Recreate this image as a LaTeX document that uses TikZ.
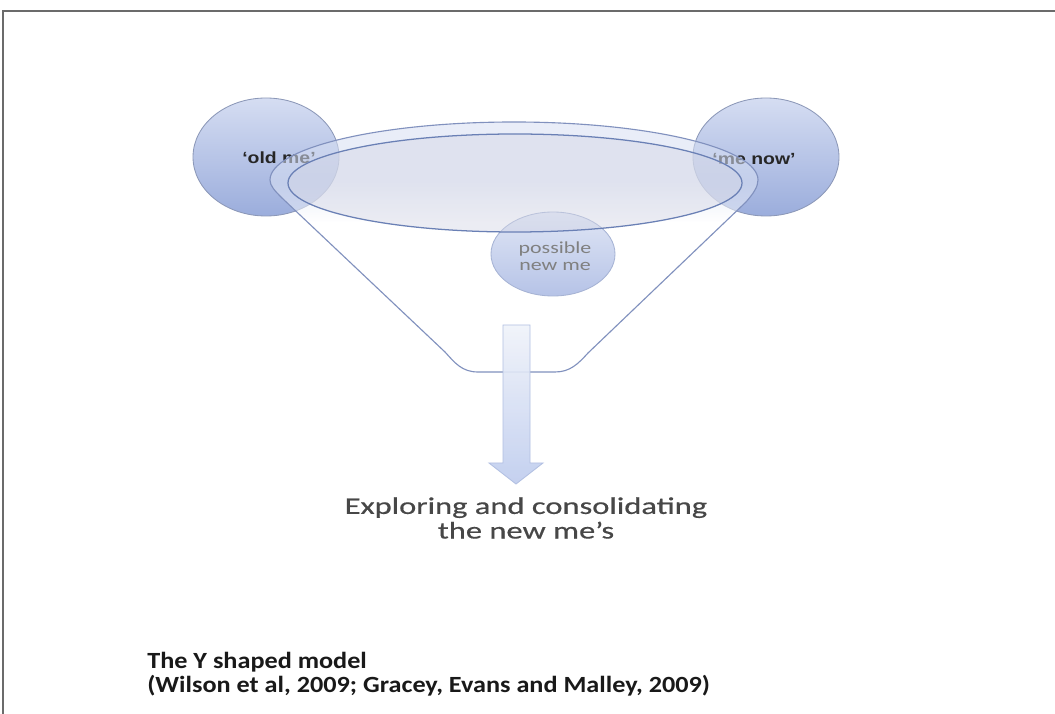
\documentclass[tikz,border=0pt]{standalone}
\usepackage{fontspec}
\setmainfont{Carlito}
\newfontfamily\labelfont[FakeStretch=1.2]{Liberation Sans}
\newfontfamily\bodyfont[FakeStretch=1.3]{Carlito}
\newfontfamily\explorefont[FakeStretch=1.36,FakeBold=0.5]{Carlito}
\newfontfamily\notefont[FakeStretch=1.13]{Carlito}
\usepackage{tikz}
\usepackage{xcolor}

\definecolor{frameline}{HTML}{6B6B6B}
\definecolor{meline}{HTML}{8C98B8}
\definecolor{metop}{HTML}{D5DDF2}
\definecolor{mebottom}{HTML}{9BADDC}
\definecolor{ringline}{HTML}{8191BE}
\definecolor{ringtop}{HTML}{D8E0F3}
\definecolor{poolline}{HTML}{6A80B5}
\definecolor{poolfill}{HTML}{D4D6E5}
\definecolor{newtop}{HTML}{E0E6F5}
\definecolor{newbottom}{HTML}{B6C3E7}
\definecolor{newline}{HTML}{A6B3D4}
\definecolor{arrowtop}{HTML}{F0F3FA}
\definecolor{arrowbottom}{HTML}{BECCEE}
\definecolor{arrowline}{HTML}{B2C0E2}

\pgfdeclareverticalshading{ringfade}{100bp}{color(0bp)=(white); color(55bp)=(white);
  color(63bp)=(ringtop); color(100bp)=(ringtop)}

\begin{document}
\begin{tikzpicture}[x=0.025cm,y=-0.025cm,
  me/.style={draw=meline,line width=0.6pt,top color=metop,bottom color=mebottom},
  mename/.style={text=black!85,font=\labelfont\bfseries\fontsize{11.5}{13}\selectfont},
  funnel/.style={draw=ringline,line width=0.8pt,shading=ringfade,fill opacity=0.55},
  pool/.style={draw=poolline,line width=0.9pt,fill=poolfill,fill opacity=0.45},
  newme/.style={draw=newline,line width=0.6pt,top color=newtop,bottom color=newbottom},
  blockarrow/.style={draw=arrowline,line width=0.6pt,top color=arrowtop,bottom color=arrowbottom,fill opacity=0.9}]
\useasboundingbox (0,0) rectangle (1055,714);
\fill[white] (0,0) rectangle (1055,714);
\draw[frameline,line width=1.1pt] (3,714) -- (3,11) -- (1055,11);

\draw[me] (266,157) ellipse[x radius=73,y radius=59];
\draw[me] (766,157) ellipse[x radius=73,y radius=59];
\node[mename] (oldme) at (279,158) {‘old me’};
\node[mename] (menow) at (754,159) {‘me now’};

\shadedraw[funnel] (282,198) .. controls (275,191) and (270,186) .. (270,180)
  arc[start angle=180,end angle=360,x radius=244,y radius=58]
  .. controls (758,187) and (753,194) .. (746,202)
  -- (588,353) .. controls (578,364) and (570,372) .. (555,372)
  -- (478,372) .. controls (462,372) and (455,363) .. (445,352) -- cycle;

\draw[newme] (553,254) ellipse[x radius=62,y radius=42];
\node[text=black!50,align=center,font=\bodyfont\fontsize{12}{12.5}\selectfont] (possible) at (555,256) {possible\\new me};

\draw[pool] (515,183) ellipse[x radius=227,y radius=49];

\draw[blockarrow] (503,325) -- (530,325) -- (530,463) -- (543,463) -- (516,484)
  -- (489,463) -- (503,463) -- cycle;

\node[text=black!72,align=center,font=\explorefont\fontsize{17}{17.5}\selectfont] (explore) at (526,518)
  {Exploring and consolidating\\the new me’s};

\node[anchor=west,inner sep=0pt,align=left,text=black!90,font=\notefont\bfseries\fontsize{16.5}{17}\selectfont] (caption) at (147,674)
  {The Y shaped model\\(Wilson et al, 2009; Gracey, Evans and Malley, 2009)};
\end{tikzpicture}
\end{document}
